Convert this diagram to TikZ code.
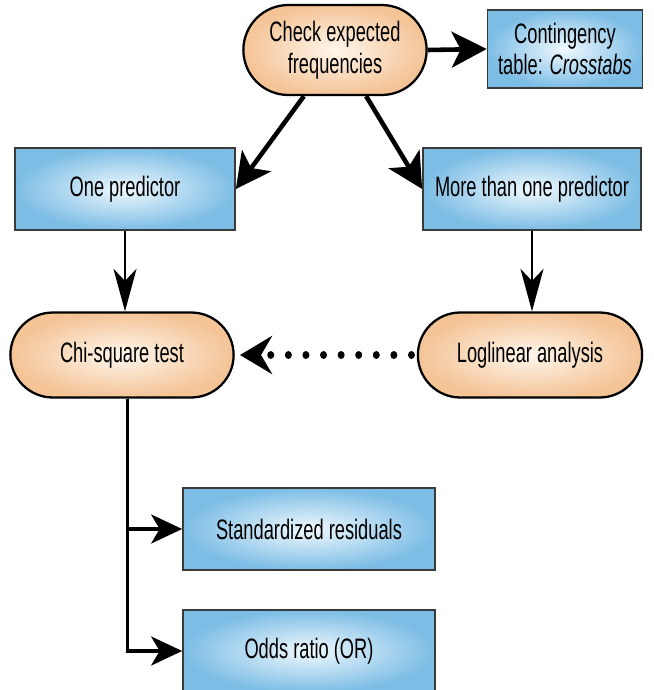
\documentclass[tikz,border=0pt]{standalone}
\usepackage{fontspec}
\setmainfont{Liberation Sans}[FakeStretch=0.65]
\usetikzlibrary{arrows.meta, positioning, shapes.misc}

\definecolor{CTpeachIn}{HTML}{FFF6EC}
\definecolor{CTpeachOut}{HTML}{F4C497}
\definecolor{CTblueIn}{HTML}{F0F9FE}
\definecolor{CTblueOut}{HTML}{7DBDE5}
\definecolor{CTedge}{HTML}{3A3A3A}

\tikzset{
  test/.style={rounded rectangle, draw=black, line width=1.3pt,
    inner color=CTpeachIn, outer color=CTpeachOut, align=center,
    font=\fontsize{16}{18}\selectfont},
  option/.style={rectangle, draw=CTedge, line width=1pt,
    inner color=CTblueIn, outer color=CTblueOut, align=center,
    font=\fontsize{16}{18}\selectfont},
  bigarrow/.style={-{Stealth[length=0.7cm, width=0.72cm, inset=0.18cm]}, line width=2.6pt},
  smallarrow/.style={-{Stealth[length=0.85cm, width=0.46cm, inset=0.24cm]}, line width=1.4pt},
  sidearrow/.style={-{Stealth[length=0.62cm, width=0.58cm, inset=0.17cm]}, line width=2pt}
}

\begin{document}
\begin{tikzpicture}[x=0.02cm, y=-0.02cm]
  \useasboundingbox (0,0) rectangle (653,690);

  % top row
  \node[test, minimum width=3.9cm, minimum height=1.8cm] (check) at (335,50)
    {Check expected\\frequencies};
  \node[option, minimum width=3.1cm, minimum height=1.56cm] (crosstab) at (565,49)
    {Contingency\\table: \textit{Crosstabs}};

  % predictors
  \node[option, minimum width=4.4cm, minimum height=1.64cm] (onepred) at (125,189)
    {One predictor};
  \node[option, minimum width=4.36cm, minimum height=1.64cm] (morepred) at (532,189)
    {More than one predictor};

  % tests
  \node[test, minimum width=4.7cm, minimum height=1.7cm] (chisq) at (122,355)
    {Chi-square test};
  \node[test, minimum width=4.72cm, minimum height=1.7cm] (loglin) at (530,355)
    {Loglinear analysis};

  % follow-up
  \node[option, minimum width=5.04cm, minimum height=1.64cm] (stdres) at (309,529)
    {Standardized residuals};
  \node[option, minimum width=5.04cm, minimum height=1.64cm] (odds) at (309,651)
    {Odds ratio (OR)};

  % connectors
  \draw[bigarrow] (check.east) -- (crosstab.west);
  \draw[bigarrow] (check.236) -- (onepred.east);
  \draw[bigarrow] (check.304) -- (morepred.west);
  \draw[smallarrow] (onepred.south) -- (chisq.north -| onepred.south);
  \draw[smallarrow] (morepred.south) -- (loglin.north -| morepred.south);
  % dotted link, round dots
  \draw[-{Stealth[length=0.64cm, width=0.76cm, inset=0.22cm, sharp]},
    line width=4pt, line cap=round, dash pattern=on 0.01pt off 10pt]
    ([xshift=-3pt]loglin.west) -- ([xshift=3pt]chisq.east);
  \draw[sidearrow] ([xshift=3pt]chisq.south) |- (stdres.west);
  \draw[sidearrow] ([xshift=3pt]chisq.south) |- (odds.west);
\end{tikzpicture}
\end{document}
